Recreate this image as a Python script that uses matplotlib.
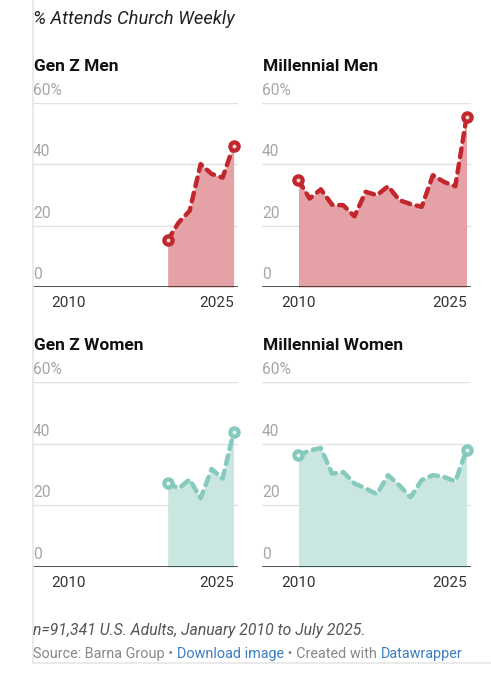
"""
Small multiples: % attending church weekly, by generation and sex
"""

import matplotlib
matplotlib.use("Agg")
from matplotlib import pyplot as plt
from matplotlib.transforms import blended_transform_factory
from matplotlib.lines import Line2D

plt.rcParams['font.family'] = ['Roboto', 'DejaVu Sans']

# --------------------------------------------------------------------------------------------------
# Data
# --------------------------------------------------------------------------------------------------

years_genz = [2019, 2020, 2021, 2022, 2023, 2024, 2025]
years_mill = list(range(2010, 2026))

genz_men = [15.2, 21.0, 24.8, 40.0, 36.8, 35.6, 46.0]
mill_men = [34.8, 28.8, 31.8, 26.8, 26.6, 23.0, 31.0, 29.9, 32.8, 28.3,
            27.0, 26.1, 36.4, 34.2, 32.8, 55.2]
genz_women = [27.3, 25.5, 28.4, 22.3, 31.8, 28.7, 43.8]
mill_women = [36.2, 37.8, 38.6, 30.3, 30.8, 27.1, 25.5, 23.6, 29.8, 26.5,
              22.6, 28.2, 29.8, 29.2, 27.8, 37.9]

panel_titles = ["Gen Z Men", "Millennial Men", "Gen Z Women", "Millennial Women"]
y_ticks = [0, 20, 40, 60]
y_tick_labels = ["0", "20", "40", "60%"]
x_ticks = [2010, 2025]

title = "% Attends Church Weekly"
note = "n=91,341 U.S. Adults, January 2010 to July 2025."
source_parts = [("Source: Barna Group • ", "#888888"),
                ("Download image", "#3d7ebf"),
                (" • Created with ", "#888888"),
                ("Datawrapper", "#3d7ebf")]

# --------------------------------------------------------------------------------------------------
# Styling
# --------------------------------------------------------------------------------------------------

W, H = 491, 680
men_line, men_fill = "#c1272d", "#e4a2a6"
women_line, women_fill = "#86cabe", "#c9e6e1"


def px(x0, y_top, x1, y_bot):
    """Pixel box -> figure rect."""
    return [x0 / W, 1 - y_bot / H, (x1 - x0) / W, (y_bot - y_top) / H]


fig = plt.figure(figsize=(W / 100, H / 100), dpi=100)

# frame lines on the left and bottom of the embed
fig.add_artist(Line2D([32.5 / W, 32.5 / W], [1, 1 - 662.5 / H], color="#e6e6e6", lw=1.2))
fig.add_artist(Line2D([32.5 / W, 1], [1 - 662.5 / H, 1 - 662.5 / H], color="#e6e6e6", lw=1.2))

fig.text(33 / W, 1 - 23.5 / H, title, fontsize=13.2, style="italic", color="#222222",
         va="baseline", ha="left")

panels = [
    (years_genz, genz_men, men_line, men_fill, (33, 102.7, 238, 287), 71),
    (years_mill, mill_men, men_line, men_fill, (262, 102.7, 471, 287), 71),
    (years_genz, genz_women, women_line, women_fill, (33, 382, 238, 567), 350),
    (years_mill, mill_women, women_line, women_fill, (262, 382, 471, 567), 350),
]

for (xs, ys, lc, fc, box, title_base), name in zip(panels, panel_titles):
    x0, yt, x1, yb = box
    ax = fig.add_axes(px(x0, yt, x1, yb))
    ax.set_xlim(2006.75, 2025.4)
    ax.set_ylim(0, 60)
    ax.axis("off")

    # gridlines and y labels above them
    trans = blended_transform_factory(ax.transAxes, ax.transData)
    for t, lab in zip(y_ticks, y_tick_labels):
        if t > 0:
            ax.axhline(t, color="#e2e2e2", lw=1.0, zorder=0)
        ax.text(0, t + 1.6, lab, transform=trans, fontsize=11.2, color="#a6a6a6",
                ha="left", va="bottom")
    ax.axhline(0, color="#222222", lw=1.1, zorder=5)

    # area + dashed line
    ax.fill_between(xs, ys, 0, color=fc, lw=0, zorder=1)
    ax.plot(xs, ys, color=lc, lw=3.2, dashes=(2.0, 1.5), dash_capstyle="round",
            solid_capstyle="round", zorder=3)
    ends_x = [xs[0], xs[-1]]
    ends_y = [ys[0], ys[-1]]
    ax.plot(ends_x, ends_y, "o", ms=8, mfc=lc, mec=lc, zorder=4, clip_on=False)
    ax.plot(ends_x, ends_y, "o", ms=1.8, mfc="white", mec="white", alpha=0.75, zorder=4,
            clip_on=False)

    # x labels
    for xt in x_ticks:
        ax.text(xt, -3.0, str(xt), fontsize=11, color="#333333",
                ha="center" if xt == x_ticks[0] else "right", va="top")

    fig.text((x0 + 1) / W, 1 - title_base / H, name, fontsize=12.5, fontweight="bold",
             color="#111111", ha="left", va="baseline")

fig.text(33 / W, 1 - 635 / H, note, fontsize=11.3, style="italic", color="#555555",
         ha="left", va="baseline")

# source line with link-coloured pieces
renderer = fig.canvas.get_renderer()
x = 33
for txt, col in source_parts:
    t = fig.text(x / W, 1 - 658 / H, txt, fontsize=10.4, color=col, ha="left", va="baseline")
    x += t.get_window_extent(renderer).width

fig.savefig("out.png", dpi=100)
